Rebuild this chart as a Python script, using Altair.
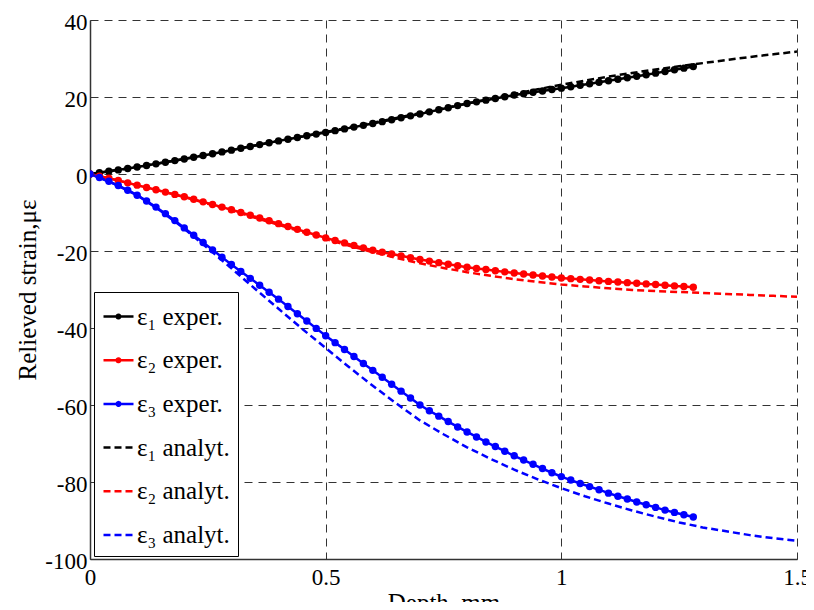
import altair as alt
import pandas as pd

# ---------------- data ----------------
depth_exp = [round(0.02 * i, 2) for i in range(65)]  # 0 .. 1.28 mm
eps1_exp = [0, 0.35, 0.71, 1.07, 1.43, 1.8,
            2.22, 2.64, 3.06, 3.48, 3.9,
            4.36, 4.82, 5.28, 5.74, 6.2,
            6.68, 7.16, 7.64, 8.12, 8.6,
            9.04, 9.48, 9.92, 10.36, 10.8,
            11.26, 11.72, 12.18, 12.64, 13.1,
            13.6, 14.1, 14.6, 15.1, 15.6,
            16.14, 16.68, 17.22, 17.76, 18.3,
            18.74, 19.18, 19.62, 20.06, 20.5,
            20.86, 21.22, 21.58, 21.94, 22.3,
            22.68, 23.06, 23.44, 23.82, 24.2,
            24.6, 25.0, 25.4, 25.8, 26.2,
            26.63, 27.06, 27.49, 27.9]
eps2_exp = [0, -0.55, -1.12, -1.7, -2.3, -2.9,
            -3.5, -4.1, -4.7, -5.3, -5.9,
            -6.56, -7.24, -7.92, -8.6, -9.3,
            -10.0, -10.72, -11.44, -12.16, -12.9,
            -13.64, -14.38, -15.12, -15.86, -16.6,
            -17.26, -17.9, -18.54, -19.18, -19.8,
            -20.3, -20.78, -21.26, -21.74, -22.2,
            -22.62, -23.02, -23.42, -23.82, -24.2,
            -24.52, -24.82, -25.12, -25.42, -25.7,
            -25.96, -26.22, -26.48, -26.74, -27.0,
            -27.18, -27.36, -27.54, -27.72, -27.9,
            -28.06, -28.22, -28.38, -28.54, -28.7,
            -28.88, -29.06, -29.24, -29.4]
eps3_exp = [0, -0.9, -1.9, -3.0, -4.2, -5.5,
            -7.0, -8.6, -10.3, -12.1, -14.0,
            -15.9, -17.8, -19.7, -21.6, -23.5,
            -25.3, -27.1, -28.9, -30.7, -32.5,
            -34.4, -36.3, -38.2, -40.1, -42.0,
            -43.8, -45.6, -47.4, -49.2, -51.0,
            -52.8, -54.6, -56.4, -58.2, -60.0,
            -61.5, -62.9, -64.3, -65.7, -67.0,
            -68.3, -69.6, -70.8, -72.0, -73.2,
            -74.3, -75.4, -76.5, -77.6, -78.6,
            -79.5, -80.4, -81.2, -82.0, -82.9,
            -83.7, -84.4, -85.2, -85.9, -86.6,
            -87.3, -87.9, -88.5, -89.1]

depth_ana = [round(0.05 * i, 2) for i in range(31)]  # 0 .. 1.5 mm
eps1_ana = [0, 0.9, 1.8, 2.85, 3.9, 5.05, 6.2, 7.4, 8.6, 9.75, 10.9,
            12.1, 13.3, 14.55, 15.8, 17.05, 18.3, 19.55, 20.8, 22.0, 23.2,
            24.25, 25.3, 26.25, 27.15, 28.0, 28.8, 29.6, 30.4, 31.1, 31.8]
eps2_ana = [0, -1.4, -2.9, -4.45, -6.0, -7.75, -9.5, -11.35, -13.2, -15.05, -16.9,
            -18.65, -20.3, -21.8, -23.2, -24.4, -25.5, -26.45, -27.3, -28.05, -28.7,
            -29.2, -29.7, -30.1, -30.4, -30.65, -30.9, -31.15, -31.4, -31.65, -31.9]
eps3_ana = [0, -2.5, -5.5, -9.6, -14.2, -19.3, -24.5, -29.8, -35.0, -40.2, -45.2,
            -50.2, -55.0, -59.6, -64.0, -67.6, -71.0, -74.0, -76.8, -79.3, -81.6,
            -83.7, -85.6, -87.4, -89.0, -90.5, -91.8, -92.8, -93.8, -94.6, -95.3]

names_exp = ["ε₁ exper.", "ε₂ exper.", "ε₃ exper."]
names_ana = ["ε₁ analyt.", "ε₂ analyt.", "ε₃ analyt."]
series_order = names_exp + names_ana
series_colors = ["#000000", "#ff0000", "#0000ff"] * 2
series_dashes = [[1, 0]] * 3 + [[7, 4]] * 3
legend_shapes = (["M-1,0H1M-0.12,0A0.12,0.12,0,1,1,0.12,0A0.12,0.12,0,1,1,-0.12,0"] * 3
                 + ["M-1,0H1"] * 3)

x_ticks = [0, 0.5, 1, 1.5]
y_ticks = [-100, -80, -60, -40, -20, 0, 20, 40]

# ---------------- tables ----------------
exp_rows = []
for name, vals in zip(names_exp, [eps1_exp, eps2_exp, eps3_exp]):
    for d, v in zip(depth_exp, vals):
        exp_rows.append({"depth": d, "strain": v, "series": name})
df_exp = pd.DataFrame(exp_rows)

ana_rows = []
for name, vals in zip(names_ana, [eps1_ana, eps2_ana, eps3_ana]):
    for d, v in zip(depth_ana, vals):
        ana_rows.append({"depth": d, "strain": v, "series": name})
df_ana = pd.DataFrame(ana_rows)

FONT = "Liberation Serif"

x_enc = alt.X("depth:Q",
              scale=alt.Scale(domain=[0, 1.5], nice=False, zero=False),
              axis=alt.Axis(values=x_ticks, title="Depth, mm",
                            labelExpr="datum.value + ''",
                            labelFlush=False, labelOverlap=False,
                            labelPadding=7, titlePadding=1))
y_enc = alt.Y("strain:Q",
              scale=alt.Scale(domain=[-100, 40], nice=False, zero=False),
              axis=alt.Axis(values=y_ticks, title="Relieved strain,με",
                            labelExpr="datum.value + ''",
                            labelFlush=False, labelOverlap=False,
                            labelPadding=3, labelOffset=2, titlePadding=4))

color_scale = alt.Scale(domain=series_order, range=series_colors)
dash_scale = alt.Scale(domain=series_order, range=series_dashes)
shape_scale = alt.Scale(domain=series_order, range=legend_shapes)

ana_lines = alt.Chart(df_ana).mark_line(strokeWidth=2.5, clip=True).encode(
    x=x_enc, y=y_enc,
    color=alt.Color("series:N", scale=color_scale, legend=None),
    strokeDash=alt.StrokeDash("series:N", scale=dash_scale, legend=None),
    detail="series:N",
)

exp_lines = alt.Chart(df_exp).mark_line(strokeWidth=2.5, clip=True).encode(
    x=x_enc, y=y_enc,
    color=alt.Color("series:N", scale=color_scale, legend=None),
)

exp_dots = alt.Chart(df_exp).mark_circle(size=55, opacity=1, clip=True).encode(
    x=x_enc, y=y_enc,
    color=alt.Color("series:N", scale=color_scale, legend=None),
)

legend_cfg = alt.Legend(orient="none", legendX=4, legendY=272, title=None,
                        labelFont=FONT, labelFontSize=25, labelColor="black",
                        symbolSize=900, symbolStrokeWidth=2.5, symbolOpacity=1,
                        strokeColor="black", fillColor="white",
                        padding=8, rowPadding=13.7, labelOffset=2, labelLimit=200)

legend_layer = alt.Chart(df_exp).transform_filter("datum.depth < -1").mark_point(
    filled=False, strokeWidth=2.5, opacity=1).encode(
    x=x_enc, y=y_enc,
    color=alt.Color("series:N", scale=color_scale, legend=legend_cfg),
    shape=alt.Shape("series:N", scale=shape_scale, legend=legend_cfg),
    strokeDash=alt.StrokeDash("series:N", scale=dash_scale, legend=legend_cfg),
)

chart = alt.layer(ana_lines, exp_lines, exp_dots, legend_layer).resolve_legend(
    color="independent", shape="independent", strokeDash="independent",
).properties(
    width=707, height=539,
    autosize=alt.AutoSizeParams(type="none"),
    padding={"left": 82, "top": 12, "right": 9, "bottom": 43},
    background="white",
).configure_view(stroke=None).configure_axis(
    labelFont=FONT, labelFontSize=23, labelColor="black",
    titleFont=FONT, titleFontSize=25, titleFontWeight="normal", titleColor="black",
    grid=True, gridDash=[8, 6], gridColor="#333333", gridOpacity=1, gridWidth=1,
    ticks=False, domainColor="#333333", domainWidth=1.5,
)

chart.save("out.html", embed_options={"renderer": "svg", "actions": False})
